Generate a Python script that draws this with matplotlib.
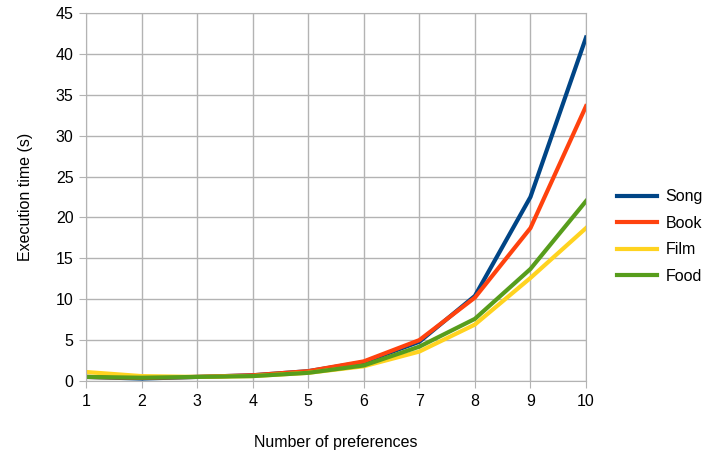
import numpy as np
import matplotlib.pyplot as plt

plt.rcParams['font.family'] = ['Liberation Sans', 'DejaVu Sans']

prefs = [1, 2, 3, 4, 5, 6, 7, 8, 9, 10]
song = [0.5, 0.3, 0.5, 0.7, 1.2, 2.3, 4.8, 10.4, 22.5, 42.0]
book = [0.5, 0.4, 0.5, 0.7, 1.2, 2.4, 5.0, 10.2, 18.7, 33.6]
film = [1.1, 0.6, 0.5, 0.6, 1.0, 1.8, 3.6, 6.9, 12.6, 18.7]
food = [0.5, 0.4, 0.5, 0.6, 1.0, 1.9, 4.2, 7.6, 13.7, 22.0]

series = [('Song', song, '#004586'), ('Book', book, '#ff420e'),
          ('Film', film, '#ffd320'), ('Food', food, '#579d1c')]

fig = plt.figure(figsize=(7.08, 4.53), dpi=100)
ax = fig.add_axes([86 / 708, 1 - 381 / 453, 500 / 708, 368 / 453])

for name, vals, col in series:
    ax.plot(prefs, vals, color=col, lw=3, label=name, solid_joinstyle='miter')

ax.set_xlim(1, 10)
ax.set_ylim(0, 45)
ax.set_xticks(prefs)
ax.set_yticks(np.arange(0, 46, 5))
ax.grid(True, color='#b3b3b3', lw=1)
ax.set_axisbelow(True)
for s in ax.spines.values():
    s.set_color('#b3b3b3')
ax.tick_params(axis='x', length=5, color='#b3b3b3', labelsize=11.5, pad=4)
ax.tick_params(axis='y', length=5, color='#b3b3b3', labelsize=11.5, pad=4)
ax.set_xlabel('Number of preferences', fontsize=11.5, labelpad=19)
ax.set_ylabel('Execution time (s)', fontsize=11.5, labelpad=16)

leg = ax.legend(loc='center left', bbox_to_anchor=(1.033, 0.393), frameon=False,
                fontsize=11.5, handlelength=2.5, labelspacing=0.72, handletextpad=0.55)

fig.savefig('out.png', dpi=100)
